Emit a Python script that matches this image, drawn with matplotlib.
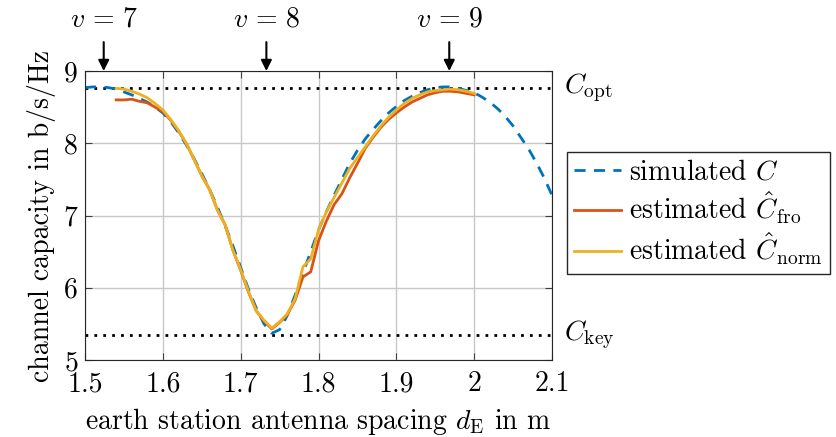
import numpy as np
import matplotlib
matplotlib.use('Agg')
import matplotlib.pyplot as plt

plt.rcParams['font.family'] = 'serif'
plt.rcParams['font.serif'] = ['cmr10', 'DejaVu Serif']
plt.rcParams['mathtext.fontset'] = 'cm'
plt.rcParams['axes.formatter.use_mathtext'] = True

# simulated capacity C
x_sim = np.round(np.arange(1.50, 2.1001, 0.01), 2)
c_sim = [8.77, 8.78, 8.78, 8.77, 8.75, 8.71, 8.67, 8.62, 8.57, 8.50,
         8.42, 8.30, 8.15, 7.98, 7.79, 7.58, 7.36, 7.12, 6.86, 6.58,
         6.28, 5.98, 5.72, 5.50, 5.37, 5.42, 5.62, 5.90, 6.20, 6.50,
         6.80, 7.05, 7.28, 7.50, 7.72, 7.90, 8.06, 8.19, 8.31, 8.42,
         8.51, 8.59, 8.65, 8.70, 8.74, 8.77, 8.78, 8.78, 8.76, 8.73,
         8.70, 8.64, 8.57, 8.48, 8.37, 8.24, 8.08, 7.92, 7.73, 7.52,
         7.28]

# estimated capacities
x_est = np.round(np.arange(1.54, 2.0001, 0.01), 2)
c_fro = [8.60, 8.60, 8.61, 8.58, 8.56, 8.50, 8.44, 8.32, 8.17, 8.00,
         7.78, 7.55, 7.36, 7.08, 6.87, 6.52, 6.24, 5.94, 5.68, 5.54,
         5.43, 5.52, 5.63, 5.83, 6.15, 6.22, 6.65, 6.92, 7.15, 7.30,
         7.52, 7.72, 7.93, 8.08, 8.22, 8.33, 8.42, 8.50, 8.57, 8.62,
         8.67, 8.70, 8.72, 8.72, 8.71, 8.69, 8.67]
c_norm = [8.76, 8.75, 8.72, 8.68, 8.63, 8.55, 8.46, 8.33, 8.18, 8.00,
          7.78, 7.55, 7.36, 7.08, 6.87, 6.52, 6.25, 5.95, 5.68, 5.55,
          5.44, 5.53, 5.64, 5.85, 6.29, 6.40, 6.80, 7.05, 7.25, 7.45,
          7.65, 7.80, 7.95, 8.10, 8.24, 8.36, 8.46, 8.55, 8.62, 8.67,
          8.71, 8.73, 8.74, 8.75, 8.74, 8.72, 8.69]

c_opt = 8.77
c_key = 5.35

v_pos = [1.524, 1.733, 1.968]
v_labels = ['$v\\,=\\,7$', '$v\\,=\\,8$', '$v\\,=\\,9$']

fs = 20
fig = plt.figure(figsize=(8.37, 4.37), dpi=100)
ax = fig.add_axes([0.1016, 0.1762, 0.5579, 0.6613])

ax.axhline(c_opt, color='black', ls=(0, (1, 2.2)), lw=2)
ax.axhline(c_key, color='black', ls=(0, (1, 2.2)), lw=2)
ax.plot(x_sim, c_sim, color='#0072BD', ls=(0, (4, 3)), lw=2, label='simulated $C$')
ax.plot(x_est, c_fro, color='#D95319', lw=2, label='estimated $\\hat{C}_{\\mathrm{fro}}$')
ax.plot(x_est, c_norm, color='#EDB120', lw=2, label='estimated $\\hat{C}_{\\mathrm{norm}}$')

ax.set_xlim(1.5, 2.1)
ax.set_ylim(5, 9)
ax.set_xticks([1.5, 1.6, 1.7, 1.8, 1.9, 2.0, 2.1])
ax.set_xticklabels(['1.5', '1.6', '1.7', '1.8', '1.9', '2', '2.1'])
ax.set_yticks([5, 6, 7, 8, 9])
ax.grid(True, color='#c8c8c8', lw=1)
ax.tick_params(direction='in', top=True, right=True, labelsize=fs, length=5, color='#404040')
ax.tick_params(axis='x', pad=8)
ax.tick_params(axis='y', pad=5)
for s in ax.spines.values():
    s.set_color('#262626')
ax.set_xlabel('earth station antenna spacing $d_{\\mathrm{E}}$ in m', fontsize=fs, labelpad=6)
ax.set_ylabel('channel capacity in b/s/Hz', fontsize=fs, labelpad=5)

ax.text(2.115, c_opt, '$C_{\\mathrm{opt}}$', fontsize=fs, va='center', ha='left', clip_on=False)
ax.text(2.115, c_key, '$C_{\\mathrm{key}}$', fontsize=fs, va='center', ha='left', clip_on=False)

for xp, lab in zip(v_pos, v_labels):
    ax.annotate('', xy=(xp, 9.0), xytext=(xp, 9.4), xycoords='data',
                annotation_clip=False,
                arrowprops=dict(arrowstyle='-|>', color='black', lw=1.5,
                                mutation_scale=16, shrinkA=0, shrinkB=0))
    ax.text(xp, 9.72, lab, fontsize=fs, ha='center', va='center', clip_on=False)

leg = ax.legend(loc='upper left', bbox_to_anchor=(567 / 837, 1 - 152 / 437),
                bbox_transform=fig.transFigure, fontsize=fs, fancybox=False,
                framealpha=1, edgecolor='#262626', handlelength=1.7,
                borderpad=0.25, labelspacing=0.15, handletextpad=0.3,
                borderaxespad=0)
leg.get_frame().set_linewidth(1)

fig.savefig('out.png', dpi=100)
